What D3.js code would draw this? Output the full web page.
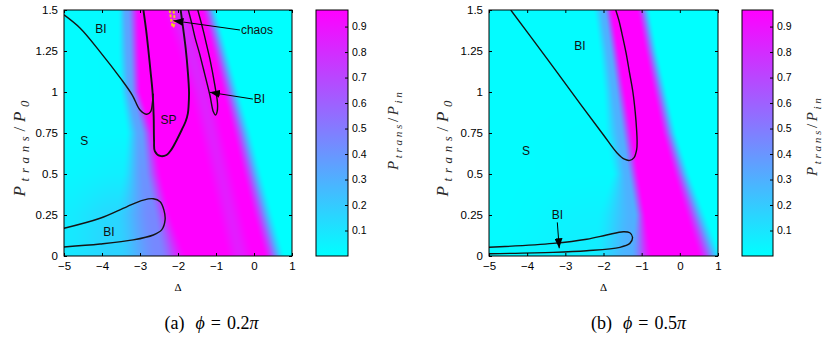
<!DOCTYPE html>
<html>
<head>
<meta charset="utf-8">
<script src="https://cdn.jsdelivr.net/npm/d3@7"></script>
<style>
    body { margin: 0; background: #fff; }
    .tick text { font-family: "Liberation Sans", Arial, sans-serif; }
    .region-label { font-family: "Liberation Sans", Arial, sans-serif; font-size: 12px; fill: #111; }
    .math { font-family: "Liberation Serif", "DejaVu Serif", serif; font-weight: normal; }
</style>
</head>
<body>
<div id="chart"></div>
<script>

// ---- axis ticks ------------------------------------------------------------
var deltaTicks = [-5, -4, -3, -2, -1, 0, 1];
var powerTicks = [0, 0.25, 0.5, 0.75, 1, 1.25, 1.5];
var cbarTicks = [0.1, 0.2, 0.3, 0.4, 0.5, 0.6, 0.7, 0.8, 0.9];
var cbarMax = 0.965;

// ---- transmission maps -------------------------------------------------------
// one row per P level: knot positions along Delta and the value read at each knot
// knots: left edge, tail, fade, core left, stripe left/centre/right, core right, fade end, far right
var mapLevels = [0, 0.25, 0.5, 0.75, 1, 1.25, 1.5];

var mapA_delta = [
    [-5, -3.6, -2.5, -1.74, -0.76, -0.37, 0.03, 0.24, 0.85, 2],
    [-5, -3.7, -2.65, -2.15, -1.0, -0.62, -0.24, -0.06, 0.55, 2],
    [-5, -3.5, -2.9, -2.4, -1.25, -0.87, -0.49, -0.33, 0.25, 2],
    [-5, -3.4, -3.0, -2.6, -1.5, -1.12, -0.76, -0.59, -0.03, 2],
    [-5, -3.55, -3.25, -2.95, -1.75, -1.37, -1.0, -0.86, -0.35, 2],
    [-5, -3.6, -3.3, -2.98, -2.1, -1.65, -1.3, -1.13, -0.65, 2],
    [-5, -3.6, -3.35, -3.0, -2.45, -1.95, -1.6, -1.4, -0.95, 2]
];
var mapA_value = [
    [0.09, 0.17, 0.45, 0.965, 0.965, 0.86, 0.965, 0.965, 0, 0],
    [0.07, 0.15, 0.45, 0.965, 0.965, 0.86, 0.965, 0.965, 0, 0],
    [0.03, 0.06, 0.4, 0.965, 0.965, 0.86, 0.965, 0.965, 0, 0],
    [0.01, 0.02, 0.35, 0.965, 0.965, 0.85, 0.965, 0.965, 0, 0],
    [0.01, 0.02, 0.35, 0.965, 0.965, 0.84, 0.965, 0.965, 0, 0],
    [0.01, 0.02, 0.35, 0.965, 0.965, 0.82, 0.965, 0.965, 0, 0],
    [0.01, 0.02, 0.35, 0.965, 0.965, 0.8, 0.965, 0.965, 0, 0]
];

var mapB_delta = [
    [-5, -2.3, -1.3, -0.7, -0.4, -0.1, 0.15, 0.45, 1.15, 2],
    [-5, -2.2, -1.2, -0.87, -0.55, -0.35, -0.1, 0.12, 0.72, 2],
    [-5, -1.8, -1.38, -1.05, -0.85, -0.6, -0.4, -0.2, 0.3, 2],
    [-5, -2.0, -1.55, -1.22, -1.05, -0.85, -0.65, -0.5, -0.05, 2],
    [-5, -2.05, -1.7, -1.4, -1.23, -1.05, -0.88, -0.73, -0.3, 2],
    [-5, -2.15, -1.85, -1.57, -1.42, -1.26, -1.1, -0.95, -0.55, 2],
    [-5, -2.3, -2.0, -1.75, -1.6, -1.45, -1.3, -1.15, -0.75, 2]
];
var mapB_value = [
    [0.02, 0.07, 0.3, 0.965, 0.965, 0.965, 0.965, 0.965, 0, 0],
    [0.01, 0.05, 0.3, 0.965, 0.965, 0.965, 0.965, 0.965, 0, 0],
    [0.01, 0.02, 0.3, 0.965, 0.965, 0.965, 0.965, 0.965, 0, 0],
    [0.01, 0.02, 0.3, 0.965, 0.965, 0.965, 0.965, 0.965, 0, 0],
    [0.01, 0.01, 0.3, 0.965, 0.965, 0.965, 0.965, 0.965, 0, 0],
    [0.01, 0.01, 0.3, 0.965, 0.965, 0.965, 0.965, 0.965, 0, 0],
    [0.01, 0.01, 0.3, 0.965, 0.965, 0.965, 0.965, 0.965, 0, 0]
];

// ---- stability boundaries [Delta, P] ---------------------------------------------
var upperBI_A = [[-5, 1.47], [-4.58, 1.39], [-4.05, 1.245], [-3.5, 1.08], [-3.2, 0.98], [-3.0, 0.89],
    [-2.82, 0.864], [-2.72, 0.88], [-2.67, 0.94], [-2.65, 0.99]];
var spBoundary_A = [[-2.91, 1.5], [-2.84, 1.38], [-2.78, 1.256], [-2.72, 1.12], [-2.67, 1.0], [-2.64, 0.85],
    [-2.63, 0.7], [-2.61, 0.64], [-2.47, 0.61], [-2.3, 0.616], [-2.17, 0.65], [-2.05, 0.7], [-1.9, 0.77],
    [-1.8, 0.82], [-1.74, 0.87], [-1.72, 0.92], [-1.71, 1.0], [-1.74, 1.12], [-1.8, 1.27], [-1.86, 1.38], [-1.93, 1.5]];
var narrowBI_A = [[-1.73, 1.5], [-1.64, 1.42], [-1.55, 1.33], [-1.44, 1.24], [-1.33, 1.14], [-1.16, 0.98],
    [-1.07, 0.88], [-1.01, 0.86], [-0.97, 0.88], [-0.96, 0.93], [-1.03, 1.04], [-1.16, 1.2], [-1.25, 1.29],
    [-1.33, 1.37], [-1.48, 1.5]];
var lowerBI_A = [[-5, 0.169], [-4.05, 0.23], [-3.35, 0.30], [-2.91, 0.341], [-2.65, 0.349], [-2.47, 0.331],
    [-2.37, 0.28], [-2.34, 0.22], [-2.43, 0.159], [-2.65, 0.128], [-3.18, 0.098], [-4.05, 0.073], [-5, 0.055]];
var chaos_A = [[-2.22, 1.5], [-2.17, 1.43], [-2.13, 1.395], [-2.09, 1.42], [-2.12, 1.5]];

var upperBI_B = [[-4.43, 1.5], [-3.5, 1.21], [-2.6, 0.925], [-2.0, 0.738], [-1.65, 0.63], [-1.45, 0.59],
    [-1.31, 0.583], [-1.2, 0.6], [-1.13, 0.65], [-1.12, 0.7], [-1.13, 0.76], [-1.17, 0.88], [-1.23, 1.0],
    [-1.32, 1.12], [-1.41, 1.24], [-1.52, 1.36], [-1.6, 1.44], [-1.68, 1.5]];
var lowerBI_B = [[-5, 0.053], [-3.32, 0.077], [-2.44, 0.102], [-1.92, 0.128], [-1.48, 0.148], [-1.31, 0.142],
    [-1.24, 0.114], [-1.31, 0.077], [-1.57, 0.053], [-2.44, 0.032], [-3.32, 0.022], [-5, 0.014]];

// ---- region names and arrows ----------------------------------------------------
var labelsA = [["BI", -4.03, 1.384], ["SP", -2.25, 0.83], ["S", -4.47, 0.70], ["BI", -3.82, 0.146]];
var arrowsA = [
    { text: "chaos", from: [-0.37, 1.378], to: [-2.12, 1.435] },
    { text: "BI", from: [-0.03, 0.957], to: [-1.16, 0.998] }
];
var labelsB = [["BI", -2.62, 1.28], ["S", -4.03, 0.64]];
var arrowsB = [
    { text: "BI", from: [-3.21, 0.205], to: [-3.16, 0.047], above: true }
];


var colorScale = d3.scaleLinear()
    .domain([0, cbarMax])
    .range(["#00ffff", "#ff00ff"])
    .clamp(true);

function profileValue(xs, vs, d) {
    var j = d3.bisectRight(xs, d) - 1;
    j = Math.max(0, Math.min(xs.length - 2, j));
    var t = (d - xs[j]) / (xs[j + 1] - xs[j]);
    t = Math.max(0, Math.min(1, t));
    var s = t * t * (3 - 2 * t);
    return vs[j] + (vs[j + 1] - vs[j]) * s;
}


/*
 * PhaseMap - one panel: transmission map, boundaries, colorbar
 */

PhaseMap = function(_svg, _config, _knotsDelta, _knotsValue, _contours, _labels, _arrows, _chaos){
    this.svg = _svg;
    this.config = _config;
    this.knotsDelta = _knotsDelta;
    this.knotsValue = _knotsValue;
    this.contours = _contours;
    this.labels = _labels;
    this.arrows = _arrows;
    this.chaos = _chaos;

    this.initVis();
}

PhaseMap.prototype.initVis = function(){
    var vis = this;
    var c = vis.config;

    vis.top = 10;
    vis.bottom = 256;

    vis.x = d3.scaleLinear().domain([-5, 1]).range([c.left, c.right]);
    vis.y = d3.scaleLinear().domain([0, 1.5]).range([vis.bottom, vis.top]);
    vis.level = d3.scaleLinear().domain(mapLevels).range(d3.range(mapLevels.length)).clamp(true);

    vis.g = vis.svg.append("g");

    vis.drawMap();
    vis.drawContours();
    vis.drawAxes();
    vis.drawColorbar();
    vis.drawTexts();
}

PhaseMap.prototype.drawMap = function(){
    var vis = this;
    var c = vis.config;

    var w = Math.round(c.right - c.left), h = vis.bottom - vis.top;
    var canvas = document.createElement("canvas");
    canvas.width = w;
    canvas.height = h;
    var ctx = canvas.getContext("2d");
    var img = ctx.createImageData(w, h);
    var n = mapLevels.length;

    for (var j = 0; j < h; j++) {
        var p = vis.y.invert(vis.top + j + 0.5);
        var k = vis.level(p);
        var i0 = Math.min(Math.floor(k), n - 2);
        var t = k - i0;
        var xs = d3.interpolate(vis.knotsDelta[i0], vis.knotsDelta[i0 + 1])(t).slice();
        var vs = d3.interpolate(vis.knotsValue[i0], vis.knotsValue[i0 + 1])(t).slice();
        for (var i = 0; i < w; i++) {
            var d = vis.x.invert(c.left + i + 0.5);
            var col = d3.rgb(colorScale(profileValue(xs, vs, d)));
            var o = (j * w + i) * 4;
            img.data[o] = col.r;
            img.data[o + 1] = col.g;
            img.data[o + 2] = col.b;
            img.data[o + 3] = 255;
        }
    }
    ctx.putImageData(img, 0, 0);

    vis.g.append("image")
        .attr("x", c.left)
        .attr("y", vis.top)
        .attr("width", w)
        .attr("height", h)
        .attr("preserveAspectRatio", "none")
        .attr("href", canvas.toDataURL());
}

PhaseMap.prototype.drawContours = function(){
    var vis = this;

    var line = d3.line()
        .x(function(d) { return vis.x(d[0]); })
        .y(function(d) { return vis.y(d[1]); })
        .curve(d3.curveCatmullRom.alpha(0.5));

    vis.g.append("defs").append("clipPath")
        .attr("id", "clip-" + vis.config.id)
        .append("rect")
        .attr("x", vis.config.left).attr("y", vis.top)
        .attr("width", vis.config.right - vis.config.left)
        .attr("height", vis.bottom - vis.top);

    var lines = vis.g.append("g").attr("clip-path", "url(#clip-" + vis.config.id + ")");

    lines.selectAll(".contour")
        .data(vis.contours)
        .enter().append("path")
        .attr("class", "contour")
        .attr("d", line)
        .attr("fill", "none")
        .attr("stroke", "#141414")
        .attr("stroke-width", function(d, i) { return i === vis.config.boldContour ? 1.9 : 1.4; });

    if (vis.chaos) {
        lines.append("path")
            .attr("d", line(vis.chaos))
            .attr("fill", "none")
            .attr("stroke", "#f0d21a")
            .attr("stroke-width", 2)
            .attr("stroke-dasharray", "3,1.5");
    }
}

PhaseMap.prototype.drawAxes = function(){
    var vis = this;
    var c = vis.config;

    var xAxis = d3.axisBottom(vis.x).tickValues(deltaTicks).tickSize(-3).tickPadding(6).tickFormat(d3.format(""));
    var yAxis = d3.axisLeft(vis.y).tickValues(powerTicks).tickSize(-3).tickPadding(6).tickFormat(d3.format(""));
    var xTop = d3.axisTop(vis.x).tickValues(deltaTicks).tickSize(-3).tickFormat("");
    var yRight = d3.axisRight(vis.y).tickValues(powerTicks).tickSize(-3).tickFormat("");

    var style = function(g) {
        g.select(".domain").remove();
        g.selectAll(".tick line").attr("stroke", "#000");
        g.selectAll(".tick text").attr("fill", "#000").style("font-size", "11.5px");
    };

    vis.g.append("g").attr("transform", "translate(0," + vis.bottom + ")").call(xAxis).call(style);
    vis.g.append("g").attr("transform", "translate(" + c.left + ",0)").call(yAxis).call(style);
    vis.g.append("g").attr("transform", "translate(0," + vis.top + ")").call(xTop).call(style);
    vis.g.append("g").attr("transform", "translate(" + c.right + ",0)").call(yRight).call(style);

    vis.g.append("rect")
        .attr("x", c.left).attr("y", vis.top)
        .attr("width", c.right - c.left).attr("height", vis.bottom - vis.top)
        .attr("fill", "none").attr("stroke", "#000").attr("stroke-width", 1);
}

PhaseMap.prototype.drawColorbar = function(){
    var vis = this;
    var c = vis.config;

    var cy = d3.scaleLinear().domain([0, cbarMax]).range([vis.bottom, vis.top]);

    var grad = vis.g.append("defs").append("linearGradient")
        .attr("id", "cbar-" + c.id)
        .attr("x1", 0).attr("y1", 1).attr("x2", 0).attr("y2", 0);
    grad.append("stop").attr("offset", 0).attr("stop-color", colorScale(0));
    grad.append("stop").attr("offset", 1).attr("stop-color", colorScale(cbarMax));

    vis.g.append("rect")
        .attr("x", c.cbarLeft).attr("y", vis.top)
        .attr("width", c.cbarRight - c.cbarLeft).attr("height", vis.bottom - vis.top)
        .attr("fill", "url(#cbar-" + c.id + ")")
        .attr("stroke", "#000").attr("stroke-width", 1);

    var cAxis = d3.axisRight(cy).tickValues(cbarTicks).tickSize(-3).tickPadding(4).tickFormat(d3.format(".1f"));
    vis.g.append("g")
        .attr("transform", "translate(" + c.cbarRight + ",0)")
        .call(cAxis)
        .call(function(g) {
            g.select(".domain").remove();
            g.selectAll(".tick line").attr("stroke", "#000");
            g.selectAll(".tick text").attr("fill", "#000").style("font-size", "10.5px");
        });
}

// P with two subscripts, written as LaTeX would
PhaseMap.prototype.mathLabel = function(x, y, size, sub1, sub2, len){
    var vis = this;
    var t = vis.g.append("text")
        .attr("class", "math")
        .attr("transform", "translate(" + x + "," + y + ") rotate(-90)")
        .attr("text-anchor", "middle")
        .attr("fill", "#2a2a2a")
        .style("font-size", size + "px")
        .style("font-style", "italic")
        .attr("textLength", len)
        .attr("lengthAdjust", "spacing");
    t.append("tspan").text("P");
    t.append("tspan").attr("dy", size * 0.25).style("font-size", (size * 0.75) + "px").text(sub1);
    t.append("tspan").attr("dy", -size * 0.25).style("font-style", "normal").text("/");
    t.append("tspan").text("P");
    t.append("tspan").attr("dy", size * 0.25).style("font-size", (size * 0.75) + "px").text(sub2);
}

PhaseMap.prototype.drawTexts = function(){
    var vis = this;
    var c = vis.config;
    var mid = (c.left + c.right) / 2;

    vis.g.selectAll(".region-label")
        .data(vis.labels)
        .enter().append("text")
        .attr("class", "region-label")
        .attr("x", function(d) { return vis.x(d[1]); })
        .attr("y", function(d) { return vis.y(d[2]); })
        .attr("dy", "0.35em")
        .attr("text-anchor", "middle")
        .text(function(d) { return d[0]; });

    vis.arrows.forEach(function(a) {
        vis.g.append("line")
            .attr("x1", vis.x(a.from[0])).attr("y1", vis.y(a.from[1]))
            .attr("x2", vis.x(a.to[0])).attr("y2", vis.y(a.to[1]))
            .attr("stroke", "#000").attr("stroke-width", 1)
            .attr("marker-end", "url(#arrowhead)");
        vis.g.append("text")
            .attr("class", "region-label")
            .attr("x", vis.x(a.from[0]) + (a.above ? 0 : 1))
            .attr("y", vis.y(a.from[1]) - (a.above ? 8 : 0))
            .attr("dy", "0.35em")
            .attr("text-anchor", a.above ? "middle" : "start")
            .text(a.text);
    });

    // axis labels
    vis.g.append("text")
        .attr("class", "math")
        .attr("x", mid).attr("y", 291)
        .attr("text-anchor", "middle")
        .style("font-size", "11px")
        .text("\u0394");

    vis.mathLabel(c.ylabelX, 148.5, 17, "trans", "0", 96);
    vis.mathLabel(c.cbarLabelX, c.cbarLabelY, 15, "trans", "in", 78);

    // sub caption
    var cap = vis.g.append("text")
        .attr("class", "math")
        .attr("x", c.captionX).attr("y", 329)
        .attr("text-anchor", "middle")
        .style("font-size", "18px");
    cap.append("tspan").text("(" + c.id + ")");
    cap.append("tspan").attr("dx", 11).style("font-style", "italic").text("\u03d5");
    cap.append("tspan").attr("dx", 6).text("=");
    cap.append("tspan").attr("dx", 6).text(c.phase);
    cap.append("tspan").style("font-style", "italic").text("\u03c0");
}


// ---- draw ------------------------------------------------------------------
var svg = d3.select("#chart").append("svg")
    .attr("width", 826)
    .attr("height", 343);

svg.append("defs").append("marker")
    .attr("id", "arrowhead")
    .attr("viewBox", "0 -4 10 8")
    .attr("refX", 10).attr("refY", 0)
    .attr("markerWidth", 10).attr("markerHeight", 8)
    .attr("markerUnits", "userSpaceOnUse")
    .attr("orient", "auto")
    .append("path")
    .attr("d", "M0,-4L10,0L0,4Z")
    .attr("fill", "#000");

var panelA = new PhaseMap(svg,
    { id: "a", left: 64, right: 292, cbarLeft: 316, cbarRight: 348, ylabelX: 25, cbarLabelX: 398,
      cbarLabelY: 131, captionX: 211.5, phase: "0.2", boldContour: 1 },
    mapA_delta, mapA_value, [upperBI_A, spBoundary_A, narrowBI_A, lowerBI_A], labelsA, arrowsA, chaos_A);

var panelB = new PhaseMap(svg,
    { id: "b", left: 489, right: 718, cbarLeft: 742, cbarRight: 773, ylabelX: 448, cbarLabelX: 817,
      cbarLabelY: 137, captionX: 638.5, phase: "0.5", boldContour: -1 },
    mapB_delta, mapB_value, [upperBI_B, lowerBI_B], labelsB, arrowsB, null);

</script>
</body>
</html>
